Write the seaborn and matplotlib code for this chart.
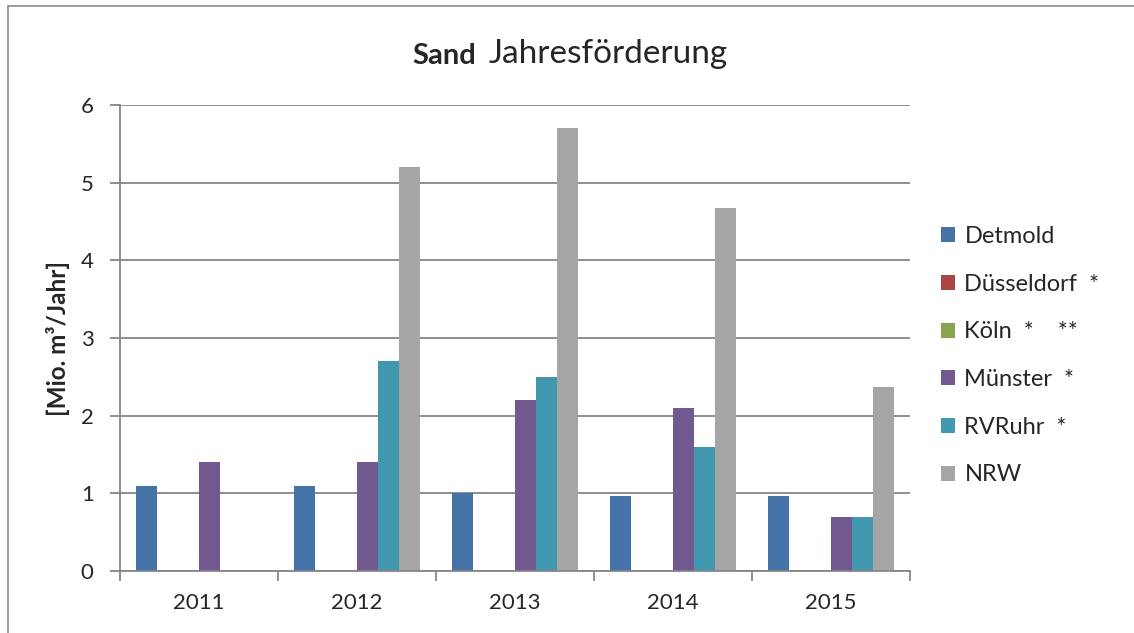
import numpy as np
import pandas as pd
import matplotlib
matplotlib.use("Agg")
import matplotlib.pyplot as plt
import seaborn as sns
from matplotlib.lines import Line2D

# Data (Mio. m³/Jahr)
years = ["2011", "2012", "2013", "2014", "2015"]
regions = ["Detmold", "Düsseldorf  *", "Köln  *    **", "Münster  *", "RVRuhr  *", "NRW"]
detmold = [1.1, 1.1, 1.0, 0.97, 0.97]
duesseldorf = [0, 0, 0, 0, 0]
koeln = [0, 0, 0, 0, 0]
muenster = [1.4, 1.4, 2.2, 2.1, 0.7]
rvruhr = [0, 2.7, 2.5, 1.6, 0.7]
nrw = [0, 5.2, 5.7, 4.67, 2.37]
colors = ["#4572A7", "#AA4643", "#89A54E", "#71588F", "#4198AF", "#A5A5A5"]

series = [detmold, duesseldorf, koeln, muenster, rvruhr, nrw]
rows = []
for reg, vals in zip(regions, series):
    for yr, v in zip(years, vals):
        rows.append({"Jahr": yr, "Region": reg, "Wert": v})
df = pd.DataFrame(rows)

sns.set_style("white")
plt.rcParams['font.family'] = ['Lato', 'DejaVu Sans']

fig = plt.figure(figsize=(11.34, 6.33), dpi=100)
ax = fig.add_axes([120 / 1134, 1 - 571 / 633, 790 / 1134, 466 / 633])

sns.barplot(data=df, x="Jahr", y="Wert", hue="Region", palette=colors,
            width=0.8, saturation=1, ax=ax, legend=True, linewidth=0)

grid_c = "#868686"
ax.set_ylim(0, 6)
ax.set_xlim(-0.5, 4.5)
ax.set_yticks(range(0, 7))
ax.yaxis.grid(True, color=grid_c, linewidth=1.3)
ax.set_axisbelow(True)
for s in ["top", "right"]:
    ax.spines[s].set_visible(False)
for s in ["left", "bottom"]:
    ax.spines[s].set_color(grid_c)
    ax.spines[s].set_linewidth(1.3)

ax.tick_params(axis="y", direction="out", length=7, width=1.3, color=grid_c,
               labelsize=16, pad=12, left=True)
ax.set_xticks(np.arange(-0.5, 5, 1), minor=True)
ax.tick_params(axis="x", which="minor", direction="out", length=7, width=1.3,
               color=grid_c, bottom=True)
ax.tick_params(axis="x", which="major", length=0, labelsize=16, pad=16)

ax.set_xlabel("")
ax.set_ylabel("[Mio. m³/Jahr]", fontsize=17.5, fontweight="bold")
ax.yaxis.set_label_coords(-0.063, 0.5)

handles, labels = ax.get_legend_handles_labels()
ax.legend(handles, labels, loc="center left", bbox_to_anchor=(1.027, 0.462),
          frameon=False, fontsize=17, handlelength=0.6, handleheight=0.6,
          handletextpad=0.4, labelspacing=1.13, borderaxespad=0)

# title: bold "Sand" followed by regular text
t1 = fig.text(412 / 1134, 1 - 64 / 633, "Sand", fontsize=21, fontweight="bold",
              ha="left", va="baseline")
fig.canvas.draw()
ax.annotate("Jahresförderung", xy=(1, 0), xycoords=t1, xytext=(9, 0),
            textcoords="offset points", fontsize=24,
            ha="left", va="bottom", annotation_clip=False)

# outer chart frame (left and top edges visible)
fig.add_artist(Line2D([8 / 1134, 8 / 1134], [0, 1 - 6 / 633], color="#8c8c8c", lw=1.2))
fig.add_artist(Line2D([8 / 1134, 1], [1 - 6 / 633, 1 - 6 / 633], color="#8c8c8c", lw=1.2))

fig.savefig("out.png", dpi=100)
